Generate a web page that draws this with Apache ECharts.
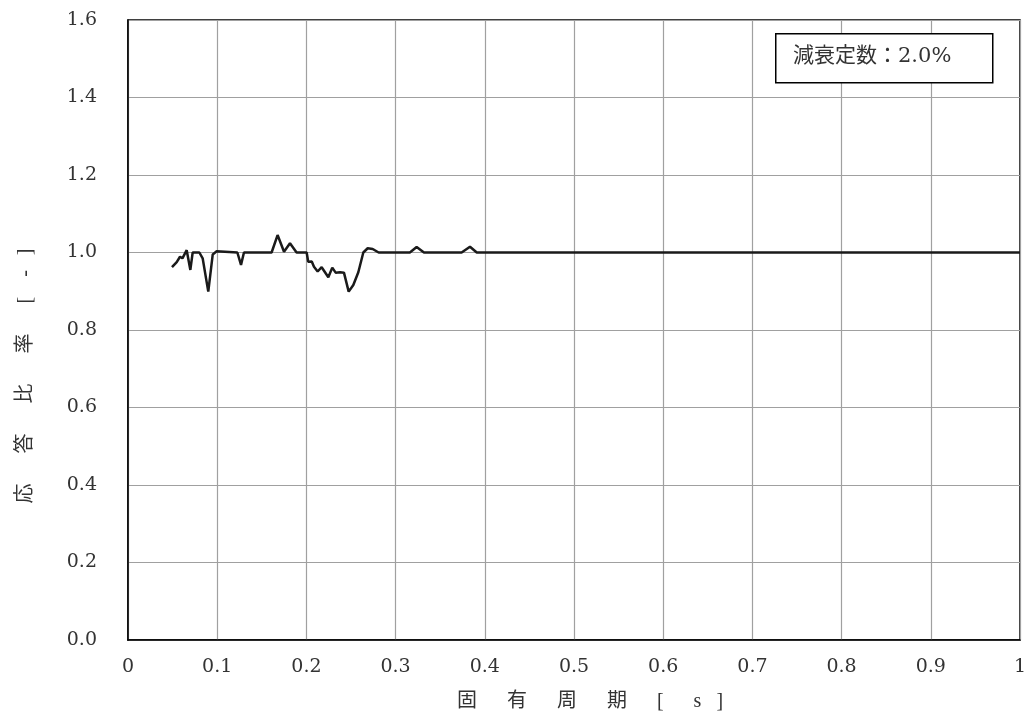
<!DOCTYPE html>
<html><head><meta charset="utf-8">
<script src="https://cdn.jsdelivr.net/npm/echarts@6/dist/echarts.min.js"></script>
<style>html,body{margin:0;padding:0;background:#fff}#c{width:1030px;height:722px}</style>
</head><body><div id="c"></div>
<script>
var periods = [0.0493,0.0546,0.0583,0.061,0.0658,0.0699,0.0725,0.080,0.0837,0.090,0.095,0.0994,0.1226,0.1267,0.130,0.161,0.1677,0.1749,0.1816,0.189,0.2003,0.202,0.206,0.2085,0.2126,0.2171,0.2246,0.229,0.2328,0.2377,0.2421,0.2474,0.2526,0.2582,0.2638,0.2687,0.2743,0.281,0.316,0.3236,0.3318,0.374,0.3834,0.391,1.0];
var ratios  = [0.962,0.975,0.989,0.985,1.006,0.955,1.0,1.0,0.985,0.899,0.995,1.003,1.0,0.968,1.0,1.0,1.045,1.002,1.024,1.0,1.0,0.976,0.977,0.963,0.951,0.962,0.936,0.961,0.948,0.949,0.948,0.899,0.916,0.949,1.0,1.011,1.009,1.0,1.0,1.014,1.0,1.0,1.015,1.0,1.0];
var xTicks = ['0','0.1','0.2','0.3','0.4','0.5','0.6','0.7','0.8','0.9','1'];
var yTicks = ['0.0','0.2','0.4','0.6','0.8','1.0','1.2','1.4','1.6'];
var legendText = '減衰定数：2.0%';
var xName = '固　  有　  周　  期　  [　  s   ]';
var yName = '応　  答　  比　  率　  [　-   ]';

var font = '"DejaVu Serif","Liberation Serif","Noto Sans CJK JP",serif';
var nameFont = '"Liberation Serif","Noto Sans CJK JP",serif';
var data = periods.map(function(p,i){return [p, ratios[i]];});
var chart = echarts.init(document.getElementById('c'));
chart.setOption({
  animation:false,
  backgroundColor:'#fff',
  grid:{left:128,right:10,top:20,bottom:82,show:true,borderColor:'#000',borderWidth:1.5,containLabel:false},
  xAxis:{type:'value',min:0,max:1,interval:0.1,
    name:xName,nameLocation:'middle',nameGap:52,
    nameTextStyle:{fontFamily:nameFont,fontSize:20,color:'#333',padding:[0,0,0,32]},
    axisLine:{show:true,lineStyle:{color:'#000',width:1.5}},
    axisTick:{show:false},
    splitLine:{show:true,lineStyle:{color:'#a0a0a0',width:1.2}},
    axisLabel:{fontFamily:font,fontSize:19,color:'#333',margin:18,
      formatter:function(v){return xTicks[Math.round(v*10)];}}},
  yAxis:{type:'value',min:0,max:1.6,interval:0.2,
    name:yName,nameLocation:'middle',nameGap:92,nameRotate:90,
    nameTextStyle:{fontFamily:nameFont,fontSize:20,color:'#333',padding:[0,92,0,0]},
    axisLine:{show:true,lineStyle:{color:'#000',width:1.5}},
    axisTick:{show:false},
    splitLine:{show:true,lineStyle:{color:'#a0a0a0',width:1.2}},
    axisLabel:{fontFamily:font,fontSize:19,color:'#333',margin:31,
      formatter:function(v){return yTicks[Math.round(v*5)];}}},
  series:[{type:'line',data:data,showSymbol:false,symbol:'none',
    lineStyle:{color:'#1a1a1a',width:2.5},z:5}],
  graphic:[
    {type:'rect',left:775,top:33,z:100,shape:{width:217,height:49},
      style:{fill:'#fff',stroke:'#000',lineWidth:1.5}},
    {type:'text',left:793,top:46,z:101,
      style:{text:legendText,fontFamily:font,fontSize:21,fill:'#333'}}
  ]
});
</script></body></html>
